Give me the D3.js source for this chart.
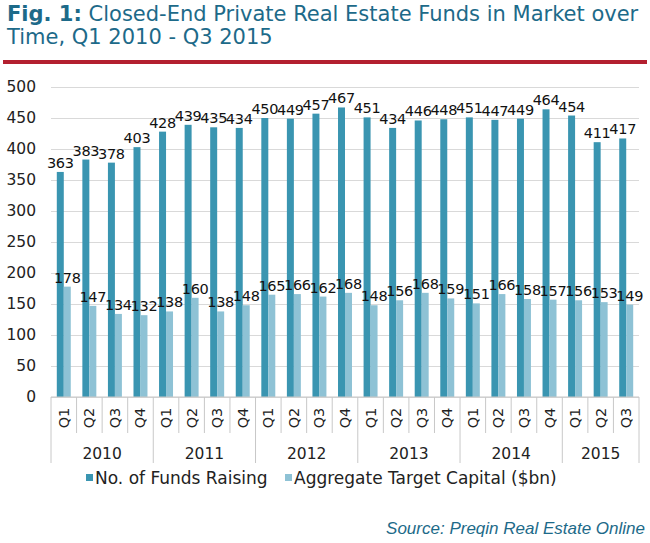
<!DOCTYPE html>
<html>
<head>
<meta charset="utf-8">
<script src="https://cdn.jsdelivr.net/npm/d3@7"></script>
<style>
    body { margin: 0; background: #fff; }
    svg { display: block; }
</style>
</head>
<body>
<svg id="chart"></svg>
<script>
// Chart values
let quarters = ['Q1', 'Q2', 'Q3', 'Q4', 'Q1', 'Q2', 'Q3', 'Q4', 'Q1', 'Q2', 'Q3', 'Q4',
    'Q1', 'Q2', 'Q3', 'Q4', 'Q1', 'Q2', 'Q3', 'Q4', 'Q1', 'Q2', 'Q3'];
let years = ['2010', '2011', '2012', '2013', '2014', '2015'];
let quartersPerYear = [4, 4, 4, 4, 4, 3];
let fundsRaising = [363, 383, 378, 403, 428, 439, 435, 434, 450, 449, 457, 467,
    451, 434, 446, 448, 451, 447, 449, 464, 454, 411, 417];
let targetCapital = [178, 147, 134, 132, 138, 160, 138, 148, 165, 166, 162, 168,
    148, 156, 168, 159, 151, 166, 158, 157, 156, 153, 149];
let seriesNames = ['No. of Funds Raising', 'Aggregate Target Capital ($bn)'];
let yTicks = [0, 50, 100, 150, 200, 250, 300, 350, 400, 450, 500];

// Layout
let c = {
    svg: { width: 650, height: 543 },
    plot: { left: 51, right: 639, top: 87, bottom: 397 },
    colors: { funds: '#3a95b1', capital: '#8ec2d5', title: '#1d6a89', red: '#b3202f' },
    font: '"DejaVu Sans", sans-serif'
};

let svg = d3.select('#chart')
    .attr('width', c.svg.width)
    .attr('height', c.svg.height)
    .style('font-family', c.font);

// Title
let title = svg.append('text')
    .attr('x', 7)
    .attr('y', 21)
    .attr('fill', c.colors.title)
    .style('font-size', '21px');
title.append('tspan').attr('font-weight', 'bold').text('Fig. 1:');
title.append('tspan').text(' Closed-End Private Real Estate Funds in Market over');
svg.append('text')
    .attr('x', 7)
    .attr('y', 44)
    .attr('fill', c.colors.title)
    .style('font-size', '21px')
    .text('Time, Q1 2010 - Q3 2015');

svg.append('rect')
    .attr('x', 3).attr('y', 60)
    .attr('width', 644).attr('height', 4)
    .attr('fill', c.colors.red);

// Scales
let idx = d3.range(quarters.length);
let x0 = d3.scaleBand()
    .domain(idx)
    .range([c.plot.left, c.plot.right])
    .padding(0);
let x1 = d3.scaleBand()
    .domain([0, 1])
    .range([0, x0.bandwidth()])
    .paddingInner(0)
    .paddingOuter(0.83);
let y = d3.scaleLinear()
    .domain([0, 500])
    .range([c.plot.bottom, c.plot.top]);

// Gridlines + y labels
let yAxis = d3.axisLeft(y)
    .tickValues(yTicks)
    .tickSize(-(c.plot.right - c.plot.left))
    .tickPadding(15);
let yg = svg.append('g')
    .attr('transform', translate(c.plot.left, 0))
    .call(yAxis);
yg.select('.domain').remove();
yg.selectAll('.tick line').attr('stroke', '#d9d9d9').attr('stroke-width', 1.2);
yg.selectAll('.tick text')
    .attr('fill', '#222')
    .style('font-size', '15.5px')
    .style('font-family', c.font);

// Bars
let series = [
    { key: 'funds', values: fundsRaising, color: c.colors.funds },
    { key: 'capital', values: targetCapital, color: c.colors.capital }
];
let plot = svg.append('g');
series.forEach(function (s, si) {
    let g = plot.append('g');
    g.selectAll('rect')
        .data(s.values)
        .join('rect')
        .attr('x', (d, i) => x0(i) + x1(si))
        .attr('y', d => y(d))
        .attr('width', x1.bandwidth())
        .attr('height', d => y(0) - y(d))
        .attr('fill', s.color);
});
// value labels sit above each bar, like the reference they may touch neighbours
series.forEach(function (s, si) {
    plot.append('g').selectAll('text')
        .data(s.values)
        .join('text')
        .attr('x', (d, i) => x0(i) + x1(si) + x1.bandwidth() / 2)
        .attr('y', d => y(d) - 4)
        .attr('text-anchor', 'middle')
        .attr('fill', '#111')
        .style('font-size', '14.5px')
        .style('letter-spacing', '-0.3px')
        .text(d => d);
});

// X axis with two levels
let axisColor = '#c8c8c8';
let xg = svg.append('g');
xg.append('line')
    .attr('x1', c.plot.left).attr('x2', c.plot.right)
    .attr('y1', y(0)).attr('y2', y(0))
    .attr('stroke', axisColor).attr('stroke-width', 1.2);
let bounds = idx.map(i => x0(i)).concat([c.plot.right]);
xg.selectAll('line.qsep')
    .data(bounds)
    .join('line')
    .attr('class', 'qsep')
    .attr('x1', d => d).attr('x2', d => d)
    .attr('y1', y(0)).attr('y2', 433)
    .attr('stroke', axisColor);
xg.selectAll('text.q')
    .data(quarters)
    .join('text')
    .attr('class', 'q')
    .attr('transform', (d, i) => translate(x0(i) + x0.bandwidth() / 2 + 5, 418) + ' rotate(-90)')
    .attr('text-anchor', 'middle')
    .attr('fill', '#222')
    .style('font-size', '14.5px')
    .text(d => d);

let yearStart = [0];
quartersPerYear.forEach((n, i) => yearStart.push(yearStart[i] + n));
let yearBounds = yearStart.map(i => i < quarters.length ? x0(i) : c.plot.right);
xg.selectAll('line.ysep')
    .data(yearBounds)
    .join('line')
    .attr('class', 'ysep')
    .attr('x1', d => d).attr('x2', d => d)
    .attr('y1', 433).attr('y2', 463)
    .attr('stroke', axisColor);
xg.selectAll('text.yr')
    .data(years)
    .join('text')
    .attr('class', 'yr')
    .attr('x', (d, i) => midpoint([yearBounds[i], yearBounds[i + 1]]))
    .attr('y', 459)
    .attr('text-anchor', 'middle')
    .attr('fill', '#222')
    .style('font-size', '15.5px')
    .text(d => d);

// Legend
let legendX = [86, 285];
let legend = svg.append('g');
series.forEach(function (s, si) {
    legend.append('rect')
        .attr('x', legendX[si]).attr('y', 474)
        .attr('width', 7).attr('height', 7)
        .attr('fill', s.color);
    legend.append('text')
        .attr('x', legendX[si] + 9)
        .attr('y', 484)
        .attr('fill', '#222')
        .style('font-size', '17px')
        .text(seriesNames[si]);
});

// Source
svg.append('text')
    .attr('x', 645)
    .attr('y', 534)
    .attr('text-anchor', 'end')
    .attr('fill', c.colors.title)
    .style('font-family', '"Liberation Sans", Arial, sans-serif')
    .style('font-style', 'italic')
    .style('font-size', '17px')
    .text('Source: Preqin Real Estate Online');

function translate(x, y) {
    return 'translate(' + x + ',' + y + ')';
}

function midpoint(range) {
    return range[0] + (range[1] - range[0]) / 2.0;
}
</script>
</body>
</html>
